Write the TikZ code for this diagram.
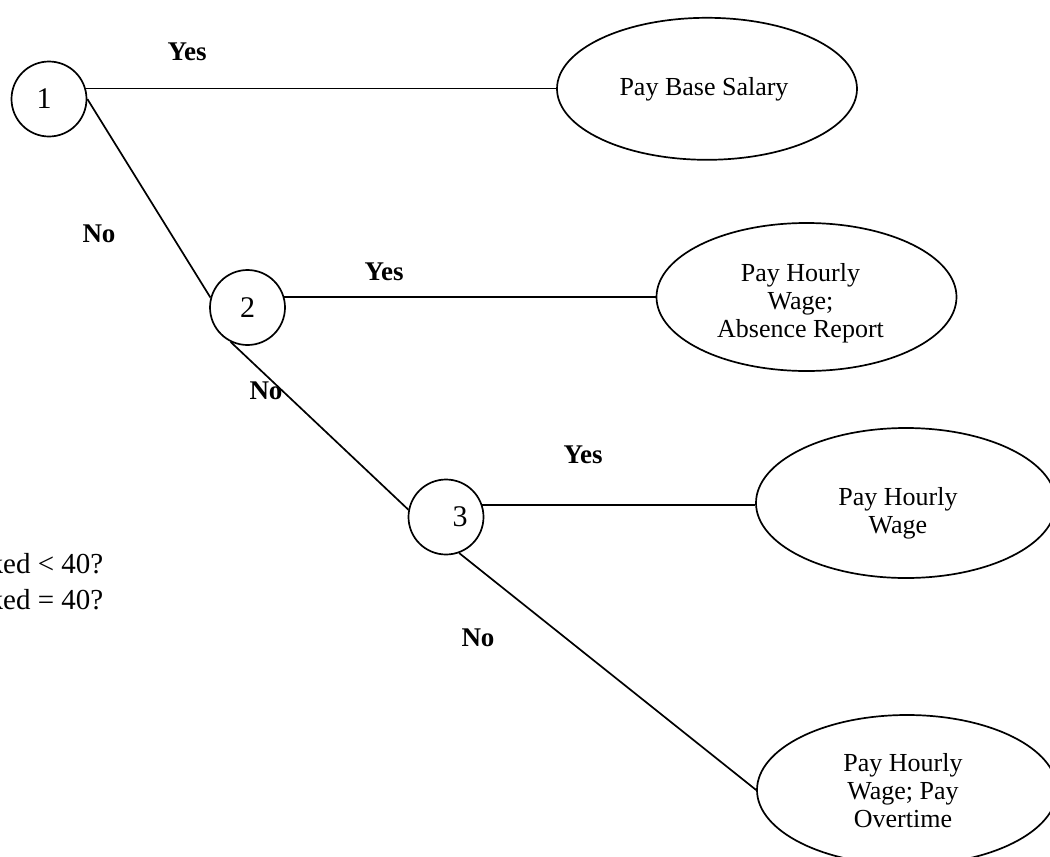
\documentclass[tikz,border=0pt]{standalone}
\usepackage{fontspec}
\setmainfont{Liberation Serif}
\usetikzlibrary{shapes.geometric}
\tikzset{
  conn/.style={line width=1.7pt},
  dec/.style={circle, draw, line width=1.7pt, minimum size=75pt, inner sep=0pt,
              font=\fontsize{30}{32}\selectfont},
  outc/.style={ellipse, draw, line width=1.7pt, minimum width=300pt, inner sep=0pt},
  otext/.style={inner sep=0pt, align=center, font=\fontsize{26}{28}\selectfont},
  ans/.style={inner sep=0pt, font=\fontsize{27}{29}\selectfont\bfseries},
  note/.style={inner sep=0pt, anchor=base west, font=\fontsize{29}{31}\selectfont}
}
\begin{document}
\begin{tikzpicture}[x=1pt,y=-1pt]
\useasboundingbox (0,0) rectangle (1050,857);

% decision nodes
\node[dec] (c1) at (49,99) {1\hspace*{10pt}};
\node[dec] (c2) at (247.5,307.5) {2};
\node[dec] (c3) at (446,517) {\hspace*{28pt}3};

% outcome nodes
\node[outc, minimum height=142pt] (e1) at (707,88.8) {};
\node[outc, minimum height=148pt] (e2) at (806.5,297) {};
\node[outc, minimum height=150pt] (e3) at (906,503) {};
\node[outc, minimum height=150pt] (e4) at (907,790) {};
\node[otext] (t1) at ([xshift=-3pt]e1.center) {Pay Base Salary};
\node[otext] (t2) at ([xshift=-6pt,yshift=-6pt]e2.center) {Pay Hourly\\Wage;\\Absence Report};
\node[otext] (t3) at ([xshift=-8pt,yshift=-10pt]e3.center) {Pay Hourly\\Wage};
\node[otext] (t4) at ([xshift=-4pt,yshift=-1pt]e4.center) {Pay Hourly\\Wage; Pay\\Overtime};

% connectors
\draw[conn] (c1.16) -- (c1.16 -| e1.west);
\draw[conn] (c1.0) -- (c2.165);
\draw[conn] (c2.16) -- (c2.16 -| e2.west);
\draw[conn] (c2.244) -- (c3.169);
\draw[conn] (c3.18) -- (c3.18 -| e3.west);
\draw[conn] (c3.290) -- (e4.west);

% answer labels
\node[ans] (y1) at (187,52) {Yes};
\node[ans] (n1) at (99,234) {No};
\node[ans] (y2) at (384,272) {Yes};
\node[ans] (n2) at (266,391) {No};
\node[ans] (y3) at (583,455) {Yes};
\node[ans] (n3) at (478,638) {No};

% partly visible legend
\node[note] (q2) at (-11.5,573) {ked < 40?};
\node[note] (q3) at (-11.5,609) {ked = 40?};
\end{tikzpicture}
\end{document}
